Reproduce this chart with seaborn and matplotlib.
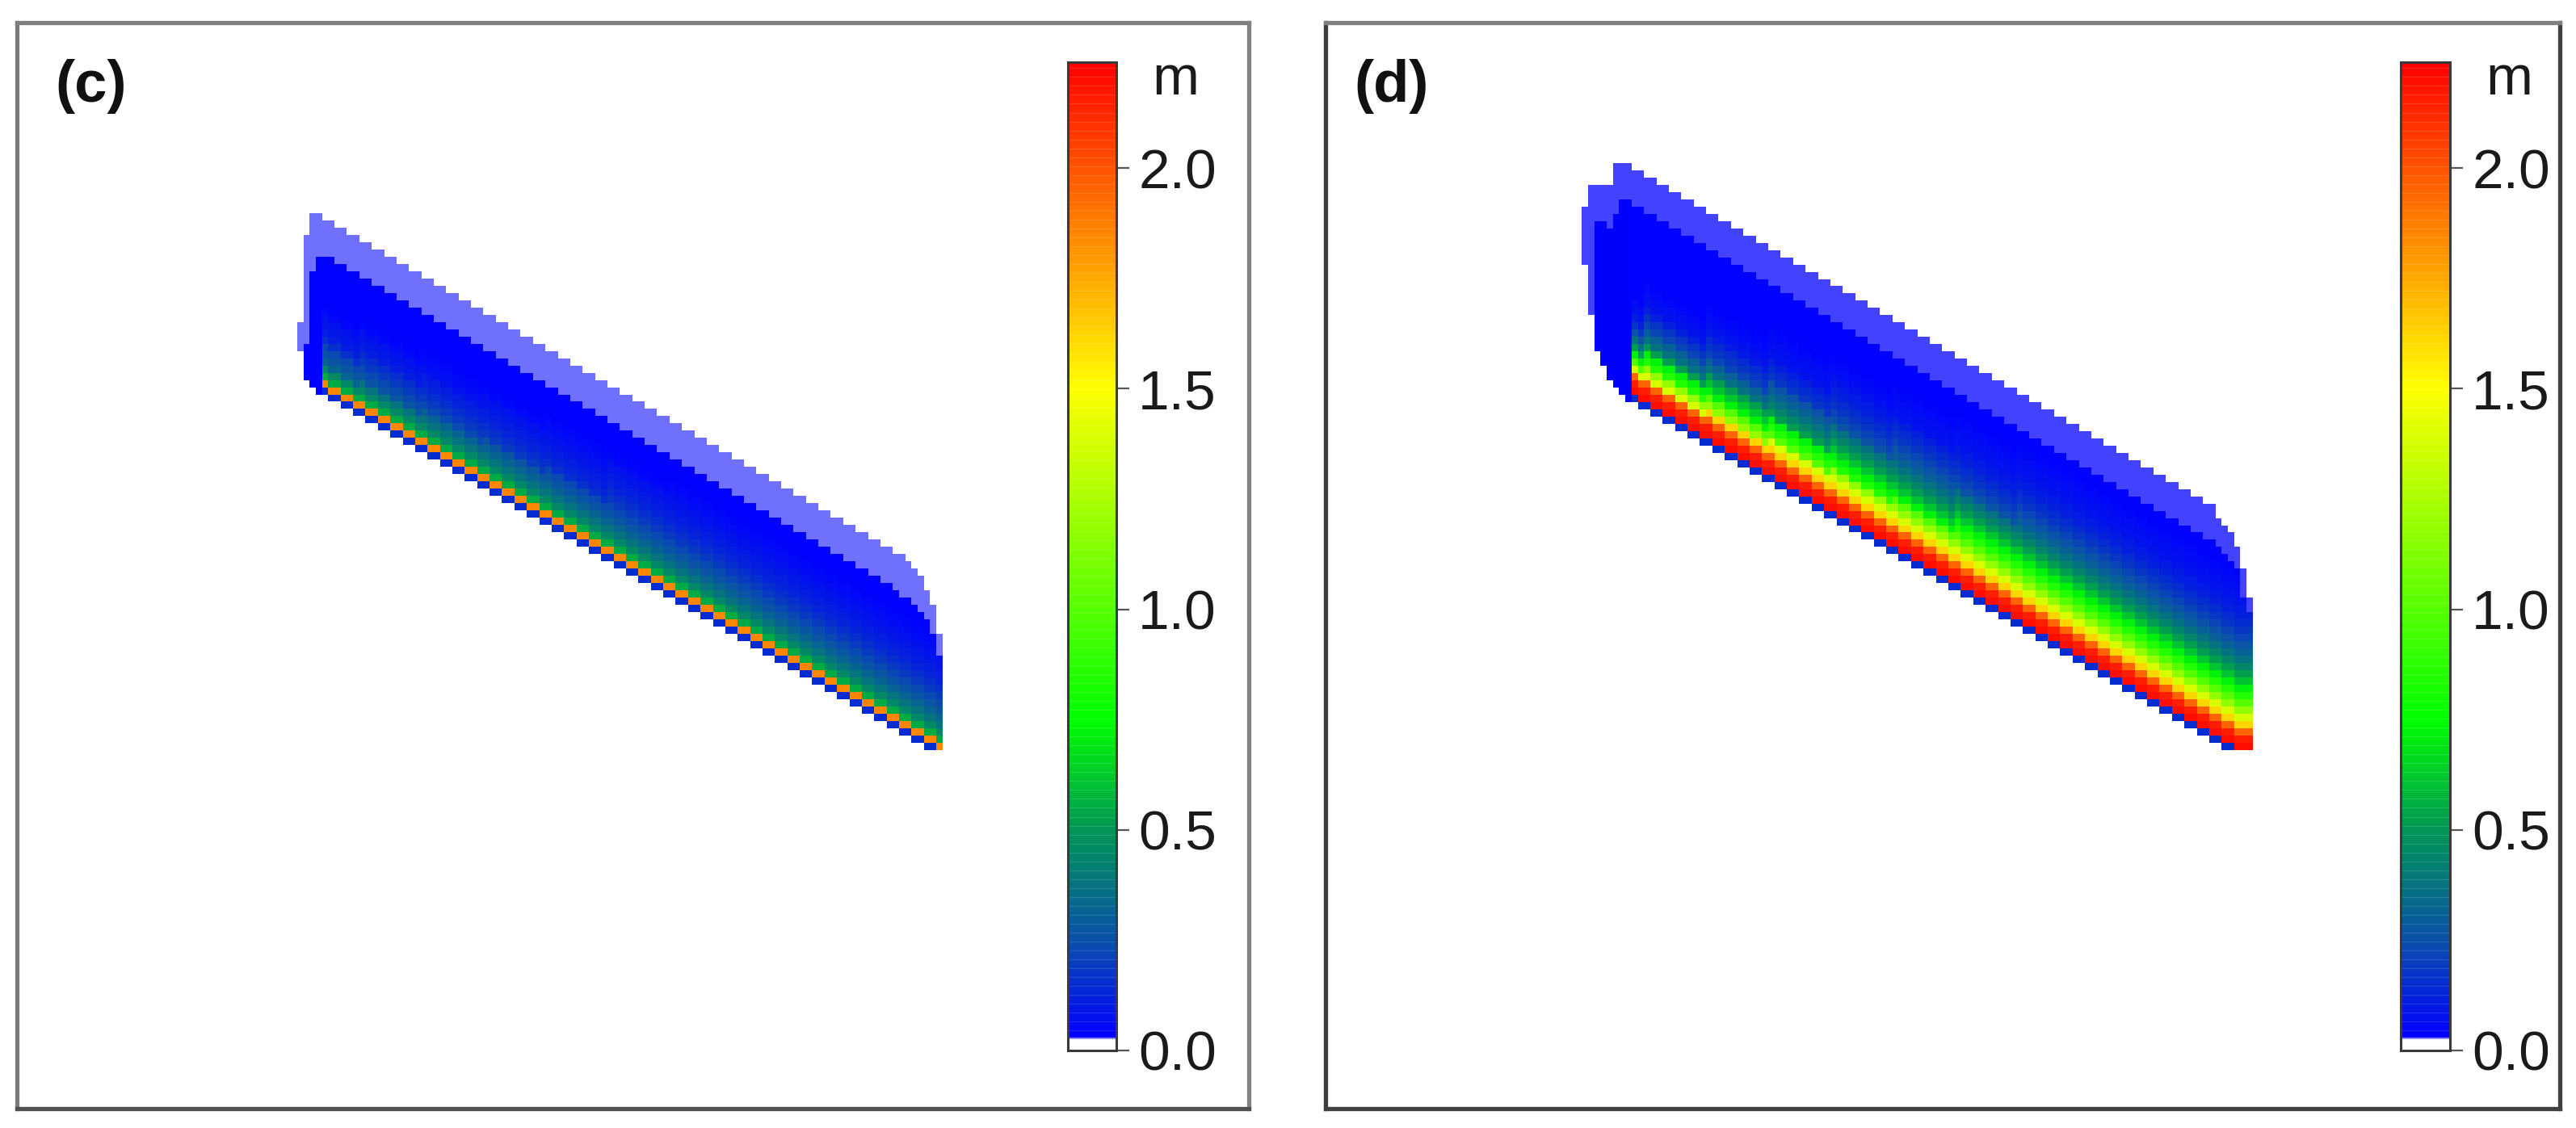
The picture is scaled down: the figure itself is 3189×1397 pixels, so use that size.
import numpy as np
import matplotlib
matplotlib.use("Agg")
import matplotlib.pyplot as plt
from matplotlib.colors import LinearSegmentedColormap
import seaborn as sns

W, H = 3189, 1397
VMAX = 2.24

# colour bar stops (value, colour)
cbar_values = [0.0, 0.024, 0.030, 0.25, 0.5, 0.75, 1.5, 2.24]
cbar_colors = ["#ffffff", "#ffffff", "#0000ff", "#0a50aa", "#009655", "#00ff00", "#ffff00", "#ff0000"]
cbar_ticks = [0.0, 0.5, 1.0, 1.5, 2.0]

# panel (c): one entry per half cell column, row numbers counted from the top of the wedge
outer_c = [15, 3, 0, 0, 1, 1, 2, 2, 3, 3, 4, 4, 5, 5, 6, 6, 7, 7, 8, 8, 9, 9, 10, 10, 11, 11,
           12, 12, 13, 13, 14, 14, 15, 15, 16, 16, 17, 17, 18, 18, 19, 19, 20, 20, 21, 21,
           22, 22, 23, 23, 24, 24, 25, 25, 26, 26, 27, 27, 28, 28, 29, 29, 30, 30, 31, 31,
           32, 32, 33, 33, 34, 34, 35, 35, 36, 36, 37, 37, 38, 38, 39, 39, 40, 40, 41, 41,
           42, 42, 43, 43, 44, 44, 45, 45, 46, 46, 47, 47, 48, 49, 50, 52, 54, 58]
dark_c = [19, 18, 8, 6, 6, 6, 7, 7, 8, 8, 9, 9, 10, 10, 11, 11, 12, 12, 13, 13, 14, 14, 15, 15,
          16, 16, 17, 17, 18, 18, 19, 19, 20, 20, 21, 21, 22, 22, 23, 23, 24, 24, 25, 25, 26, 26,
          27, 27, 28, 28, 29, 29, 30, 30, 31, 31, 32, 32, 33, 33, 34, 34, 35, 35, 36, 36, 37, 37,
          38, 38, 39, 39, 40, 40, 41, 41, 42, 42, 43, 43, 44, 44, 45, 45, 46, 46, 47, 47, 48, 48,
          49, 49, 50, 50, 51, 51, 52, 53, 53, 54, 55, 56, 58, 61]
floor_c = [18, 22, 23, 24, 24, 25, 25, 26, 26, 27, 27, 28, 28, 29, 29, 30, 30, 31, 31, 32, 32,
           33, 33, 34, 34, 35, 35, 36, 36, 37, 37, 38, 38, 39, 39, 40, 40, 41, 41, 42, 42, 43, 43,
           44, 44, 45, 45, 46, 46, 47, 47, 48, 48, 49, 49, 50, 50, 51, 51, 52, 52, 53, 53, 54, 54,
           55, 55, 56, 56, 57, 57, 58, 58, 59, 59, 60, 60, 61, 61, 62, 62, 63, 63, 64, 64, 65, 65,
           66, 66, 67, 67, 68, 68, 69, 69, 70, 70, 71, 71, 72, 72, 73, 73, 74]
# depth (m) by rows above the lower edge, at the wide (right) end of the wedge
profile_c = [0.15, 1.85, 0.55, 0.45, 0.38, 0.32, 0.27, 0.23, 0.19, 0.16, 0.13, 0.11, 0.09, 0.08,
             0.06, 0.05, 0.04]
# how much faster the depth falls off, per 10 columns from the left
fade_c = [1.5, 1.3, 1.2, 1.15, 1.1, 1.05, 1.0, 1.0, 1.0, 1.0, 1.0]
thin_c = 0.0274
base_c = 0.032
edge_c = 0.032

# panel (d)
outer_d = [6, 3, 3, 3, 3, 0, 0, 0, 1, 1, 2, 2, 3, 3, 4, 4, 5, 5, 6, 6, 7, 7, 8, 8, 9, 9, 10, 10,
           11, 11, 12, 12, 13, 13, 14, 14, 15, 15, 16, 16, 17, 17, 18, 18, 19, 19, 20, 20, 21, 21,
           22, 22, 23, 23, 24, 24, 25, 25, 26, 26, 27, 27, 28, 28, 29, 29, 30, 30, 31, 31, 32, 32,
           33, 33, 34, 34, 35, 35, 36, 36, 37, 37, 38, 38, 39, 39, 40, 40, 41, 41, 42, 42, 43, 43,
           44, 44, 45, 45, 46, 46, 47, 47, 49, 50, 51, 53, 56, 60]
dark_d = [14, 21, 8, 8, 9, 7, 5, 5, 6, 6, 7, 7, 8, 8, 9, 9, 10, 10, 11, 11, 12, 12, 13, 13, 14, 14,
          15, 15, 16, 16, 17, 17, 18, 18, 19, 19, 20, 20, 21, 21, 22, 22, 23, 23, 24, 24, 25, 25,
          26, 26, 27, 27, 28, 28, 29, 29, 30, 30, 31, 31, 32, 32, 33, 33, 34, 34, 35, 35, 36, 36,
          37, 37, 38, 38, 39, 39, 40, 40, 41, 41, 42, 42, 43, 43, 44, 44, 45, 45, 46, 46, 47, 47,
          48, 48, 49, 49, 50, 50, 51, 51, 52, 52, 53, 54, 55, 56, 60, 62]
floor_d = [13, 20, 25, 27, 29, 30, 31, 32, 32, 33, 33, 34, 34, 35, 35, 36, 36, 37, 37, 38, 38,
           39, 39, 40, 40, 41, 41, 42, 42, 43, 43, 44, 44, 45, 45, 46, 46, 47, 47, 48, 48, 49, 49,
           50, 50, 51, 51, 52, 52, 53, 53, 54, 54, 55, 55, 56, 56, 57, 57, 58, 58, 59, 59, 60, 60,
           61, 61, 62, 62, 63, 63, 64, 64, 65, 65, 66, 66, 67, 67, 68, 68, 69, 69, 70, 70, 71, 71,
           72, 72, 73, 73, 74, 74, 75, 75, 76, 76, 77, 77, 78, 78, 79, 79, 80, 80, 81, 81, 81]
profile_d = [0.15, 2.2, 2.15, 1.95, 1.62, 1.38, 1.18, 1.0, 0.85, 0.72, 0.61, 0.52, 0.44, 0.37,
             0.31, 0.26, 0.22, 0.18, 0.15, 0.12, 0.1, 0.08, 0.07, 0.06, 0.05, 0.04]
fade_d = [2.0, 1.6, 1.4, 1.25, 1.15, 1.1, 1.05, 1.0, 1.0, 1.0, 1.0]
thin_d = 0.0288
base_d = 0.032
edge_d = 0.034

depth_cmap = LinearSegmentedColormap.from_list(
    "depth", [(v / VMAX, c) for v, c in zip(cbar_values, cbar_colors)], N=2048)


def build_grid(outer, dark, floor, profile, fade, thin, base, edge, ridge_start, last_row):
    grid = np.full((last_row + 1, len(outer)), np.nan)
    for h in range(len(outer)):
        grid[outer[h]:min(dark[h], last_row + 1), h] = thin
        for r in range(dark[h], min(floor[h], last_row) + 1):
            up = floor[h] - r
            if up > 3:
                up = 3 + int(round((up - 3) * fade[h // 10]))
            if h < ridge_start:
                grid[r, h] = edge
            elif up < len(profile):
                grid[r, h] = profile[up]
            else:
                grid[r, h] = base
    return grid


def px_axes(fig, x0, y0, x1, y1):
    return fig.add_axes([x0 / W, 1 - y1 / H, (x1 - x0) / W, (y1 - y0) / H])


def draw_panel(fig, grid, frame, origin, bar, label, label_x, spine_cols):
    fx0, fy0, fx1, fy1 = frame
    ox, oy, dx, dy = origin
    ax = px_axes(fig, fx0, fy0, fx1, fy1)
    cax = px_axes(fig, bar[0], bar[1], bar[2], bar[3])
    sns.heatmap(grid, ax=ax, cbar_ax=cax, cmap=depth_cmap, vmin=0, vmax=VMAX,
                xticklabels=False, yticklabels=False, mask=np.isnan(grid),
                cbar_kws={"ticks": cbar_ticks, "format": "%.1f"})
    ax.set_xlim((fx0 - ox) / dx, (fx1 - ox) / dx)
    ax.set_ylim((fy1 - oy) / dy, (fy0 - oy) / dy)
    for side, col in spine_cols.items():
        ax.spines[side].set_visible(True)
        ax.spines[side].set_color(col)
        ax.spines[side].set_linewidth(3.8)
    ax.text((label_x - fx0) / (fx1 - fx0), 1 - (107 - fy0) / (fy1 - fy0), label,
            transform=ax.transAxes, ha="left", va="center",
            fontsize=52, fontweight="bold", color="#111111")

    cb = ax.collections[0].colorbar
    cb.outline.set_visible(True)
    cb.outline.set_edgecolor("#3a3a3a")
    cb.outline.set_linewidth(2.2)
    cb.ax.tick_params(length=11.5, width=1.6, color="#555555", pad=8,
                      labelsize=50, labelcolor="#1a1a1a")
    cb.ax.hlines(np.arange(0.045, VMAX, 0.0202), 0, 1, colors="white", lw=0.9, alpha=0.13)
    cb.ax.text(1.0 + 73 / (bar[2] - bar[0]), 1 - 22 / (bar[3] - bar[1]), "m",
               transform=cb.ax.transAxes, ha="center", va="center",
               fontsize=50, color="#1a1a1a")


sns.set_theme(style="white")
plt.rcParams["font.family"] = ["Liberation Sans", "DejaVu Sans"]

fig = plt.figure(figsize=(W / 100, H / 100), dpi=100, facecolor="white")

grid_c = build_grid(outer_c, dark_c, floor_c, profile_c, fade_c, thin_c, base_c, edge_c, 4, 73)
grid_d = build_grid(outer_d, dark_d, floor_d, profile_d, fade_d, thin_d, base_d, edge_d, 8, 80)

draw_panel(fig, grid_c, (21, 28, 1546, 1373), (368, 264, 7.68, 8.98), (1322, 77, 1382, 1301),
           "(c)", 68,
           {"top": "#808080", "left": "#7a7a7a", "right": "#808080", "bottom": "#505050"})
draw_panel(fig, grid_d, (1641, 28, 3169, 1373), (1958.3, 202, 7.69, 8.97), (2972, 77, 3033, 1301),
           "(d)", 1676,
           {"top": "#808080", "left": "#3c3c3c", "right": "#404040", "bottom": "#404040"})

fig.savefig("out.png", dpi=100, facecolor="white")
